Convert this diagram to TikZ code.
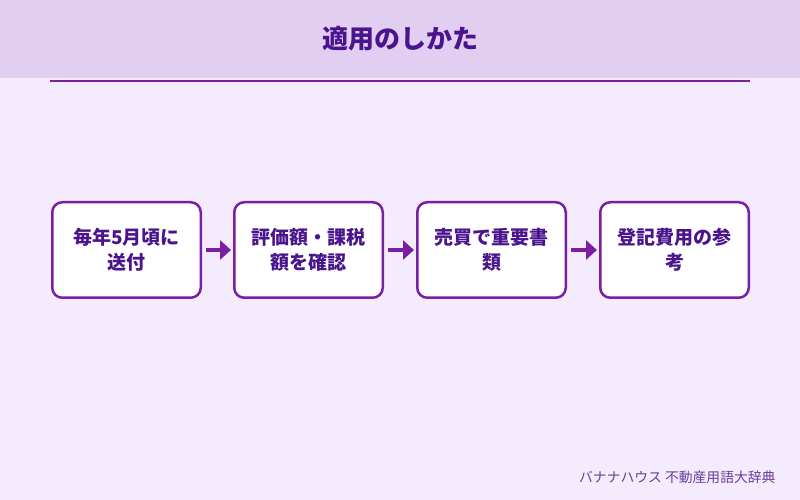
\documentclass[tikz,border=0pt]{standalone}
\usepackage{fontspec}
\setmainfont{Noto Sans CJK JP}
\usepackage{tikz}
\usetikzlibrary{arrows.meta, positioning}

\definecolor{bgpurple}{HTML}{F4ECFC}
\definecolor{bandpurple}{HTML}{E2CEF0}
\definecolor{linepurple}{HTML}{7B1FA2}
\definecolor{textpurple}{HTML}{4A148C}
\definecolor{notepurple}{HTML}{6A3D9A}

\begin{document}
\begin{tikzpicture}[
    x=1pt, y=1pt,
    box/.style={
        rectangle, draw=linepurple, line width=2.5pt, fill=white,
        rounded corners=10pt, minimum width=148.5pt, minimum height=95.5pt,
        align=center, inner sep=4pt, text=textpurple,
        font=\fontsize{19}{25}\selectfont\bfseries
    },
    arrow/.style={
        -{Triangle[length=11pt, width=19pt]}, line width=4pt, draw=linepurple,
        shorten <=4pt, shorten >=2pt
    },
    heading/.style={
        text=textpurple, font=\fontsize{26}{30}\selectfont\bfseries
    },
    footnote/.style={
        text=notepurple, font=\fontsize{13.8}{16}\selectfont, anchor=east
    }
]

    % =========================================================================
    % BACKGROUND AND TITLE BAND
    % =========================================================================
    \useasboundingbox (0, 0) rectangle (800, 500);
    \fill [bgpurple] (0, 0) rectangle (800, 500);
    \fill [bandpurple] (0, 422) rectangle (800, 500);
    \draw [linepurple, line width=2pt] (50, 419) -- (750, 419);

    \node [heading] (title) at (400, 461) {適用のしかた};

    % =========================================================================
    % STEPS
    % =========================================================================
    \node [box] (step_send) at (126.5, 250) {毎年5月頃に\\送付};
    \node [box, right=31pt of step_send] (step_check) {評価額・課税\\額を確認};
    \node [box, right=32pt of step_check] (step_docs) {売買で重要書\\類};
    \node [box, right=32pt of step_docs] (step_reg) {登記費用の参\\考};

    % =========================================================================
    % FLOWS
    % =========================================================================
    \draw [arrow] (step_send.east) -- (step_check.west);
    \draw [arrow] (step_check.east) -- (step_docs.west);
    \draw [arrow] (step_docs.east) -- (step_reg.west);

    % footer
    \node [footnote] (source) at (779, 23) {バナナハウス 不動産用語大辞典};

\end{tikzpicture}
\end{document}
